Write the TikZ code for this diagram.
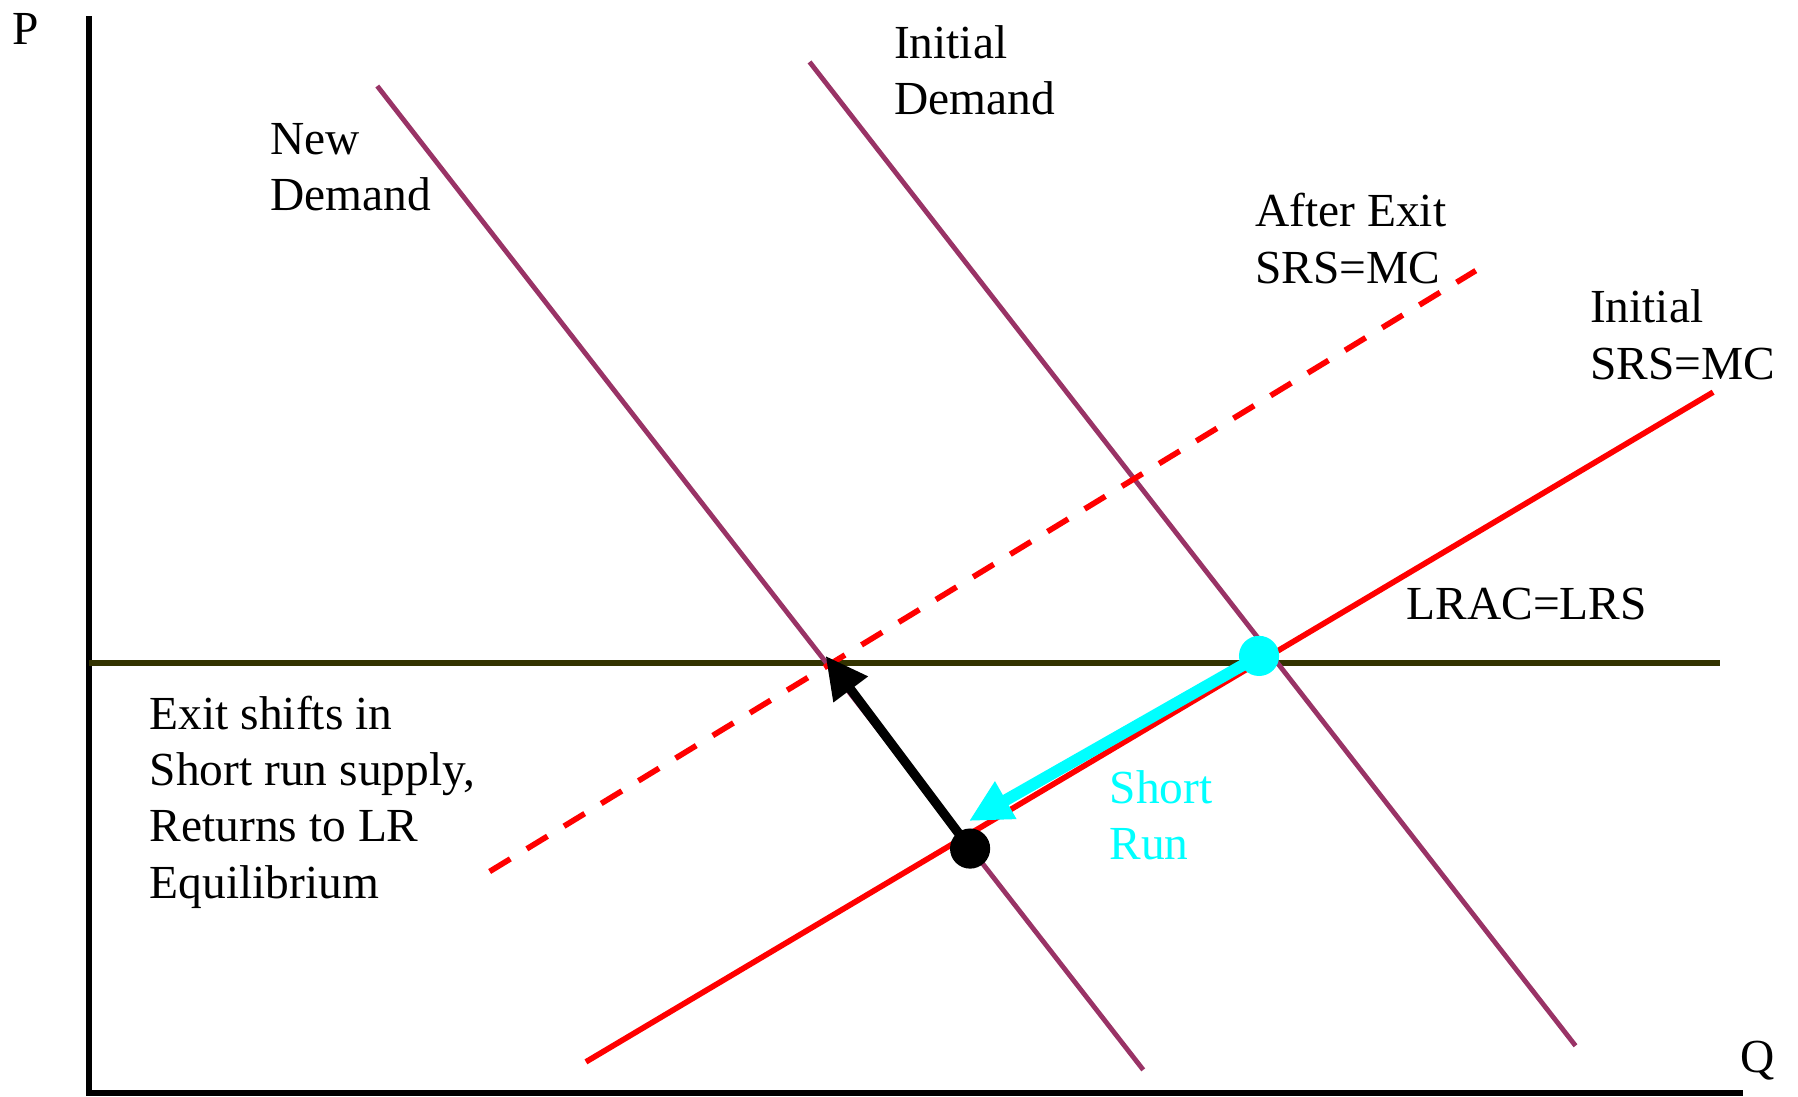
\documentclass[tikz,border=0pt]{standalone}
\usepackage{fontspec}
\setmainfont{Liberation Serif}
\usetikzlibrary{arrows.meta}
\definecolor{dpurple}{HTML}{993366}
\definecolor{olive3}{HTML}{333300}
\definecolor{cyanc}{HTML}{00FFFF}
\tikzset{
  axisline/.style={line width=1.5pt, black},
  demandline/.style={line width=1.2pt, dpurple},
  supplyline/.style={line width=1.4pt, red},
  exitline/.style={line width=1.4pt, red, dash pattern=on 6pt off 4.8pt},
  lrline/.style={line width=1.4pt, olive3},
  lbl/.style={inner sep=0pt, align=left, font=\fontsize{11.76pt}{13.94pt}\selectfont},
  dotnode/.style={circle, inner sep=0pt, minimum size=0.35cm},
}
\begin{document}
\begin{tikzpicture}[x=0.01cm, y=-0.01cm]
\useasboundingbox (0,0) rectangle (1568,956);
% coordinates
\coordinate (axtop) at (78,14);
\coordinate (origin) at (78,953);
\coordinate (axright) at (1520,953);
\coordinate (lrL) at (78,578);
\coordinate (lrR) at (1500,578);
\coordinate (ndT) at (329,75);
\coordinate (ndB) at (997,933);
\coordinate (idT) at (706,54);
\coordinate (idB) at (1374,912);
\coordinate (isL) at (511,926);
\coordinate (isR) at (1494,342);
\coordinate (esL) at (427,760);
\coordinate (esR) at (1287,236);
\coordinate (btip) at (720,572);
\coordinate (ctip) at (845,716);
% axes
\draw[axisline] (axtop) -- (origin) -- (axright);
\node[lbl] (plabel) at (22,25) {P};
\node[lbl] (qlabel) at (1533,925) {Q};
% long run line
\draw[lrline] (lrL) -- (lrR);
% demand lines
\draw[demandline] (ndT) -- (ndB);
\draw[demandline] (idT) -- (idB);
% supply lines
\draw[supplyline] (isL) -- (isR);
\draw[exitline] (esL) -- (esR);
% dots
\node[dotnode] (cdot) at (1098,572) {};
\node[dotnode] (bdot) at (846,740) {};
% arrows
\draw[line width=2.9pt, cyanc, -{Triangle[length=10.5pt, width=10pt]}] (cdot.center) -- (ctip);
\draw[line width=2.3pt, black, -{Triangle[length=10.4pt, width=10.1pt]}] (bdot.center) -- (btip);
\fill[cyanc] (cdot) circle (0.175cm);
\fill[black] (bdot) circle (0.175cm);
% labels
\node[lbl, anchor=west] (newdem) at (235,145.5) {New\\Demand};
\node[lbl, anchor=west] (initdem) at (779,61.5) {Initial\\Demand};
\node[lbl, anchor=west] (afterexit) at (1094,208) {After Exit\\SRS=MC};
\node[lbl, anchor=west] (initsrs) at (1386,292) {Initial\\SRS=MC};
\node[lbl, anchor=west] (lrac) at (1226,527) {LRAC=LRS};
\node[lbl, anchor=west, text=cyanc] (shortrun) at (967,711) {Short\\Run};
\node[lbl, anchor=west] (exittext) at (130,699.5) {Exit shifts in\\Short run supply,\\Returns to LR\\Equilibrium};
\end{tikzpicture}
\end{document}
